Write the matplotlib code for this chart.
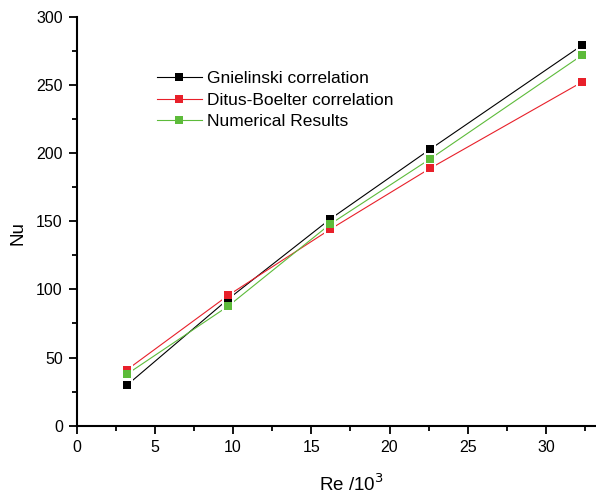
import matplotlib
matplotlib.use("Agg")
import matplotlib.pyplot as plt
from matplotlib.ticker import MultipleLocator

plt.rcParams['font.family'] = ['Liberation Sans', 'DejaVu Sans']

re_vals = [3.2, 9.7, 16.2, 22.6, 32.3]
gnielinski = [29.6, 93.0, 151.5, 202.8, 279.0]
ditus = [40.9, 95.7, 144.0, 188.8, 252.0]
numerical = [37.7, 87.8, 147.8, 195.7, 271.7]

series = [
    ("Gnielinski correlation", gnielinski, "#000000"),
    ("Ditus-Boelter correlation", ditus, "#e8202a"),
    ("Numerical Results", numerical, "#5dbb3a"),
]

fig = plt.figure(figsize=(5.96, 4.94), dpi=100)
ax = fig.add_axes([0.1287, 0.1383, 0.8713, 0.8279])

# lines with white gaps around the points
for name, vals, col in series:
    ax.plot(re_vals, vals, color=col, lw=0.8, marker='s', ms=9,
            mfc='white', mec='white', mew=0, zorder=2)
handles = []
for name, vals, col in series:
    ax.plot(re_vals, vals, linestyle='none', marker='s', ms=5.5,
            mfc=col, mec=col, mew=0, zorder=3)
    handles.append(plt.Line2D([], [], color=col, lw=0.8, marker='s', ms=5.5,
                              mfc=col, mec=col, mew=0, label=name))

ax.set_xlim(0, 33.2)
ax.set_ylim(0, 300)
ax.xaxis.set_major_locator(MultipleLocator(5))
ax.xaxis.set_minor_locator(MultipleLocator(2.5))
ax.yaxis.set_major_locator(MultipleLocator(50))
ax.yaxis.set_minor_locator(MultipleLocator(25))
for s in ['top', 'right']:
    ax.spines[s].set_visible(False)
for s in ['left', 'bottom']:
    ax.spines[s].set_linewidth(1.5)
ax.tick_params(which='major', direction='out', length=6, width=1.3, labelsize=11.5, pad=4)
ax.tick_params(which='minor', direction='out', length=3.5, width=1.3)

ax.set_xlabel("Re /10$^{3}$", fontsize=13.5)
ax.set_ylabel("Nu", fontsize=13.5)
ax.xaxis.set_label_coords(0.528, -0.118)
ax.yaxis.set_label_coords(-0.097, 0.471)

leg = ax.legend(handles=handles, loc='upper left', bbox_to_anchor=(0.124, 0.906),
                frameon=False, fontsize=12.5, handlelength=2.6, handletextpad=0.3,
                labelspacing=0.38)

fig.savefig("out.png", dpi=100)
